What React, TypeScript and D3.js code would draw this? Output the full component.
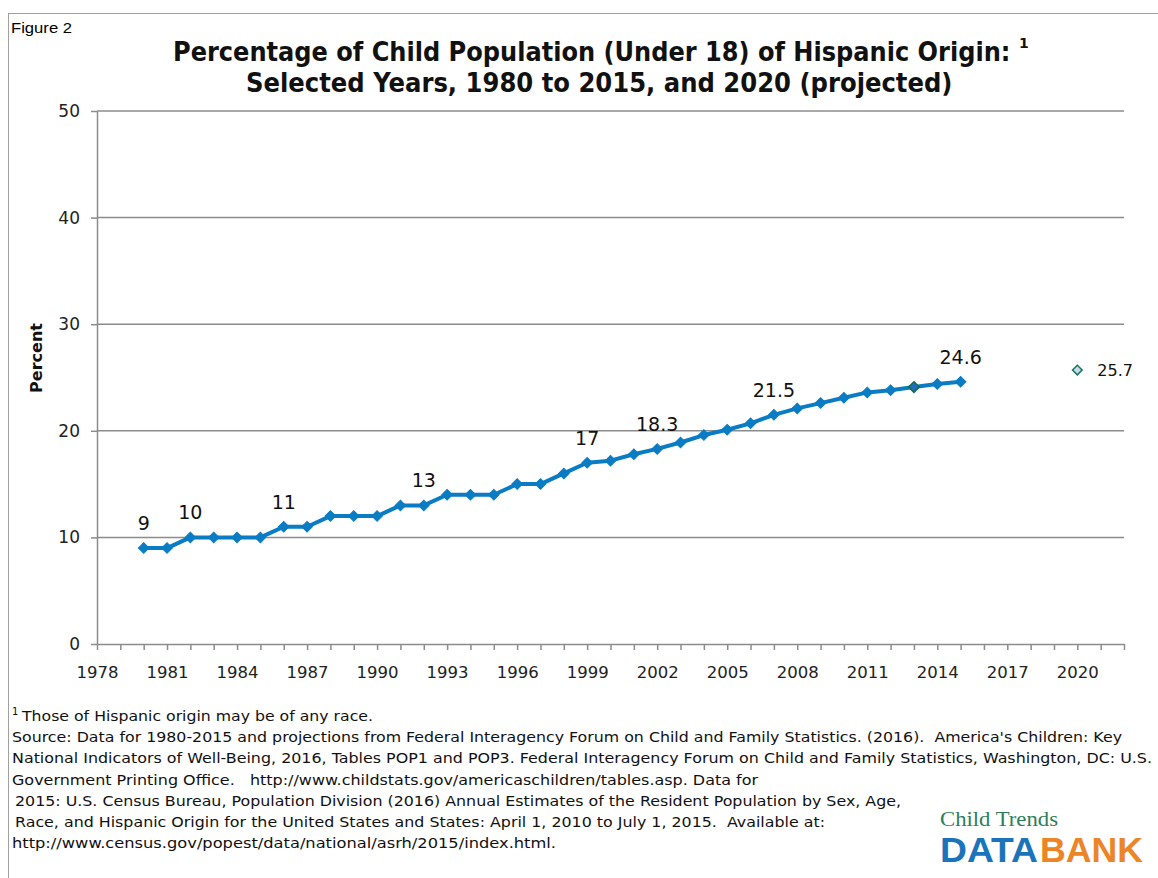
import React, { useEffect, useRef } from 'react';
import { axisBottom, axisLeft, line, scaleLinear, select, symbol, symbolSquare } from 'd3';

// observed values, 1980-2015
const years = [
  1980, 1981, 1982, 1983, 1984, 1985, 1986, 1987, 1988, 1989, 1990, 1991, 1992, 1993, 1994, 1995, 1996, 1997,
  1998, 1999, 2000, 2001, 2002, 2003, 2004, 2005, 2006, 2007, 2008, 2009, 2010, 2011, 2012, 2013, 2014, 2015,
];
const percents = [
  9, 9, 10, 10, 10, 10, 11, 11, 12, 12, 12, 13, 13, 14, 14, 14, 15, 15, 16, 17, 17.2, 17.8, 18.3, 18.9, 19.6,
  20.1, 20.7, 21.5, 22.1, 22.6, 23.1, 23.6, 23.8, 24.1, 24.4, 24.6,
];

// projection
const projectedYear = 2020;
const projectedValue = 25.7;

const highlightYear = 2013;

const labelYears = [1980, 1982, 1986, 1992, 1999, 2002, 2007, 2015];
const labelTexts = ['9', '10', '11', '13', '17', '18.3', '21.5', '24.6'];

const xTickLabels = [1978, 1981, 1984, 1987, 1990, 1993, 1996, 1999, 2002, 2005, 2008, 2011, 2014, 2017, 2020];
const yTickValues = [0, 10, 20, 30, 40, 50];

const titleLines = [
  'Percentage of Child Population (Under 18) of Hispanic Origin:',
  'Selected Years, 1980 to 2015, and 2020 (projected)',
];

const footnoteLines = [
  'Those of Hispanic origin may be of any race.',
  'Source: Data for 1980-2015 and projections from Federal Interagency Forum on Child and Family Statistics. (2016).  America\'s Children: Key',
  'National Indicators of Well-Being, 2016, Tables POP1 and POP3. Federal Interagency Forum on Child and Family Statistics, Washington, DC: U.S.',
  'Government Printing Office.   http://www.childstats.gov/americaschildren/tables.asp. Data for',
  '2015: U.S. Census Bureau, Population Division (2016) Annual Estimates of the Resident Population by Sex, Age,',
  'Race, and Hispanic Origin for the United States and States: April 1, 2010 to July 1, 2015.  Available at:',
  'http://www.census.gov/popest/data/national/asrh/2015/index.html.',
];
const footnoteX = [22, 12, 12, 12, 15, 15, 12];
const footnoteRight = [373, 1122, 1152, 758, 901, 825, 556];

const BLUE = '#0a7cc4';
const GRID = '#8c8c8c';
const sans = '"DejaVu Sans", Verdana, sans-serif';

const Chart = () => {
  const chartRef = useRef<SVGSVGElement | null>(null);

  useEffect(() => {
    const svg = select(chartRef.current);
    const width = 1158;
    const height = 878;

    svg.selectAll('*').remove();
    svg.attr('width', width).attr('height', height);

    svg.append('rect').attr('width', width).attr('height', height).attr('fill', '#fff');
    svg
      .append('rect')
      .attr('x', 8.5)
      .attr('y', 13.5)
      .attr('width', width + 10)
      .attr('height', height + 10)
      .attr('fill', 'none')
      .attr('stroke', '#a0a0a0');

    svg
      .append('text')
      .attr('x', 11)
      .attr('y', 33)
      .attr('font-family', '"Liberation Sans", Arial, sans-serif')
      .attr('font-size', 14)
      .attr('textLength', 61)
      .attr('lengthAdjust', 'spacingAndGlyphs')
      .text('Figure 2');

    // title, squeezed horizontally to the narrow bold face of the original
    const titleX = [173, 246];
    const titleLen = [838, 707];
    const titleY = [61, 92];
    titleLines.forEach((t, i) => {
      const g = svg.append('g');
      const tt = g
        .append('text')
        .attr('font-family', sans)
        .attr('font-weight', 'bold')
        .attr('font-size', 26)
        .attr('fill', '#111')
        .text(t);
      const natural = (tt.node() as SVGTextElement).getComputedTextLength() || titleLen[i];
      g.attr('transform', `translate(${titleX[i]},${titleY[i]}) scale(${titleLen[i] / natural},1)`);
    });
    svg
      .append('text')
      .attr('x', 1019)
      .attr('y', 48)
      .attr('font-family', sans)
      .attr('font-weight', 'bold')
      .attr('font-size', 14)
      .attr('fill', '#111')
      .text('1');

    const x = scaleLinear().domain([1978, 2022]).range([97, 1124]);
    const y = scaleLinear().domain([0, 50]).range([644, 111]);

    // gridlines
    svg
      .append('g')
      .selectAll('line')
      .data(yTickValues.filter((v) => v > 0))
      .enter()
      .append('line')
      .attr('x1', x(1978))
      .attr('x2', x(2022))
      .attr('y1', (d) => y(d))
      .attr('y2', (d) => y(d))
      .attr('stroke', GRID)
      .attr('stroke-width', 1.5);

    const yearTicks: number[] = [];
    for (let yr = 1978; yr <= 2022; yr++) yearTicks.push(yr);

    const xAxis = svg
      .append('g')
      .attr('transform', `translate(0,${y(0)})`)
      .call(
        axisBottom(x)
          .tickValues(yearTicks)
          .tickSize(6)
          .tickSizeOuter(0)
          .tickPadding(16)
          .tickFormat((d) => (xTickLabels.includes(d as number) ? String(d) : ''))
      );
    xAxis.select('.domain').attr('stroke', GRID).attr('stroke-width', 1.5);
    xAxis.selectAll('.tick line').attr('stroke', GRID).attr('stroke-width', 1.5);
    xAxis.selectAll('text').attr('font-family', sans).attr('font-size', 16.5).attr('fill', '#222');

    const yAxis = svg
      .append('g')
      .attr('transform', `translate(${x(1978)},0)`)
      .call(axisLeft(y).tickValues(yTickValues).tickSize(6).tickSizeOuter(0).tickPadding(11));
    yAxis.select('.domain').attr('stroke', GRID).attr('stroke-width', 1.5);
    yAxis.selectAll('.tick line').attr('stroke', GRID).attr('stroke-width', 1.5);
    yAxis.selectAll('text').attr('font-family', sans).attr('font-size', 17).attr('fill', '#222');

    svg
      .append('text')
      .attr('transform', `translate(42,358) rotate(-90)`)
      .attr('text-anchor', 'middle')
      .attr('font-family', sans)
      .attr('font-weight', 'bold')
      .attr('font-size', 16)
      .attr('fill', '#111')
      .text('Percent');

    // series line
    const pts = years.map((yr, i) => [yr, percents[i]] as [number, number]);
    const path = line<[number, number]>()
      .x((d) => x(d[0]))
      .y((d) => y(d[1]));
    svg
      .append('path')
      .attr('d', path(pts))
      .attr('fill', 'none')
      .attr('stroke', BLUE)
      .attr('stroke-width', 4)
      .attr('stroke-linejoin', 'round');

    const diamond = symbol().type(symbolSquare).size(56);
    svg
      .append('g')
      .selectAll('path')
      .data(pts)
      .enter()
      .append('path')
      .attr('d', diamond)
      .attr('transform', (d) => `translate(${x(d[0])},${y(d[1])}) rotate(45)`)
      .attr('fill', (d) => (d[0] === highlightYear ? '#1f6fc0' : BLUE))
      .attr('stroke', (d) => (d[0] === highlightYear ? '#17694a' : BLUE))
      .attr('stroke-width', (d) => (d[0] === highlightYear ? 1.5 : 1));

    // projected point
    svg
      .append('path')
      .attr('d', symbol().type(symbolSquare).size(46)())
      .attr('transform', `translate(${x(projectedYear)},${y(projectedValue)}) rotate(45)`)
      .attr('fill', '#c6daf2')
      .attr('stroke', '#17765a')
      .attr('stroke-width', 1.5);
    svg
      .append('text')
      .attr('x', x(projectedYear) + 20)
      .attr('y', y(projectedValue) + 6)
      .attr('font-family', sans)
      .attr('font-size', 16)
      .attr('fill', '#111')
      .text(String(projectedValue));

    // data labels
    svg
      .append('g')
      .selectAll('text')
      .data(labelYears)
      .enter()
      .append('text')
      .attr('x', (d) => x(d))
      .attr('y', (d) => y(percents[years.indexOf(d)]) - 18)
      .attr('text-anchor', 'middle')
      .attr('font-family', sans)
      .attr('font-size', 19)
      .attr('fill', '#111')
      .text((_, i) => labelTexts[i]);

    // footnotes
    const fn = svg.append('g').attr('font-family', sans).attr('font-size', 14.5).attr('fill', '#111');
    fn.append('text').attr('x', 12).attr('y', 715).attr('font-size', 10).text('1');
    footnoteLines.forEach((t, i) => {
      fn.append('text')
        .attr('xml:space', 'preserve')
        .style('white-space', 'pre')
        .attr('x', footnoteX[i])
        .attr('y', 721 + i * 21.2)
        .attr('textLength', footnoteRight[i] - footnoteX[i])
        .attr('lengthAdjust', 'spacingAndGlyphs')
        .text(t);
    });

    // logo
    const logo = svg.append('g');
    logo
      .append('text')
      .attr('x', 940)
      .attr('y', 826)
      .attr('font-family', '"Liberation Serif", "DejaVu Serif", serif')
      .attr('font-size', 21)
      .attr('fill', '#2e7d5a')
      .attr('textLength', 118)
      .attr('lengthAdjust', 'spacingAndGlyphs')
      .text('Child Trends');
    logo
      .append('text')
      .attr('x', 940)
      .attr('y', 862)
      .attr('font-family', '"Liberation Sans", Arial, sans-serif')
      .attr('font-weight', 'bold')
      .attr('font-size', 35)
      .attr('fill', '#1b74bb')
      .attr('textLength', 98)
      .attr('lengthAdjust', 'spacingAndGlyphs')
      .text('DATA');
    logo
      .append('text')
      .attr('x', 1040)
      .attr('y', 862)
      .attr('font-family', '"Liberation Sans", Arial, sans-serif')
      .attr('font-weight', 'bold')
      .attr('font-size', 35)
      .attr('fill', '#ec8526')
      .attr('textLength', 103)
      .attr('lengthAdjust', 'spacingAndGlyphs')
      .text('BANK');
  }, []);

  return <svg ref={chartRef} style={{ position: 'absolute', left: 0, top: 0, display: 'block' }} />;
};

export default function App() {
  return <Chart />;
}
